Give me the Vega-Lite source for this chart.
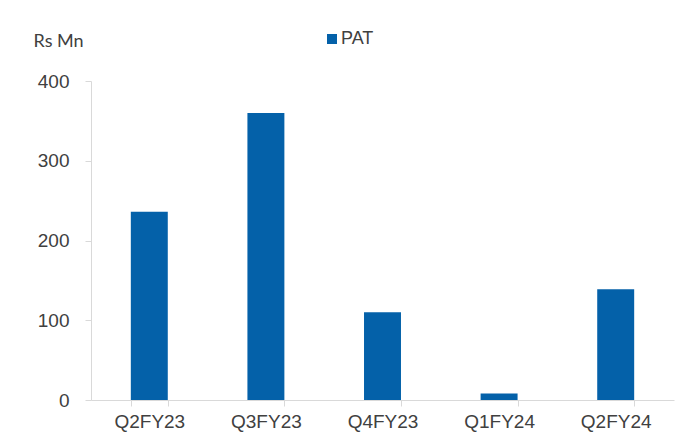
{
  "$schema": "https://vega.github.io/schema/vega-lite/v6.json",
  "width": 583,
  "height": 319,
  "autosize": "none",
  "padding": {"left": 91, "top": 81, "right": 26, "bottom": 35},
  "background": "white",
  "config": {
    "view": {"stroke": null},
    "font": "Liberation Sans",
    "axis": {"domainColor": "#d9d9d9", "tickColor": "#d9d9d9", "labelColor": "#404040", "labelFont": "Liberation Sans", "grid": false}
  },
  "data": {
    "values": [
      {"quarter": "Q2FY23", "series": "PAT", "value": 236},
      {"quarter": "Q3FY23", "series": "PAT", "value": 360},
      {"quarter": "Q4FY23", "series": "PAT", "value": 110},
      {"quarter": "Q1FY24", "series": "PAT", "value": 8},
      {"quarter": "Q2FY24", "series": "PAT", "value": 139}
    ]
  },
  "mark": {"type": "bar", "color": "#0461a9"},
  "encoding": {
    "x": {
      "field": "quarter",
      "type": "nominal",
      "sort": null,
      "scale": {"paddingInner": 0.683, "paddingOuter": 0.3415},
      "axis": {"title": null, "labelAngle": 0, "labelFontSize": 19, "tickSize": 6, "tickBand": "extent", "labelPadding": 6}
    },
    "y": {
      "field": "value",
      "type": "quantitative",
      "scale": {"domain": [0, 400]},
      "axis": {
        "values": [0, 100, 200, 300, 400],
        "labelFontSize": 19,
        "tickSize": 6,
        "labelPadding": 16,
        "title": "Rs Mn",
        "titleAngle": 0,
        "titleAlign": "left",
        "titleBaseline": "middle",
        "titleX": -58,
        "titleY": -40,
        "titleFontSize": 18,
        "titleFontWeight": "normal",
        "titleColor": "#404040",
        "titleFont": "Lato"
      }
    },
    "color": {
      "field": "series",
      "type": "nominal",
      "scale": {"range": ["#0461a9"]},
      "legend": {
        "title": null,
        "orient": "none",
        "legendX": 232,
        "legendY": -51,
        "symbolType": "square",
        "symbolSize": 100,
        "symbolStrokeWidth": 0,
        "labelFontSize": 18,
        "labelColor": "#404040",
        "labelFont": "Liberation Sans",
        "labelOffset": 0
      }
    }
  }
}
